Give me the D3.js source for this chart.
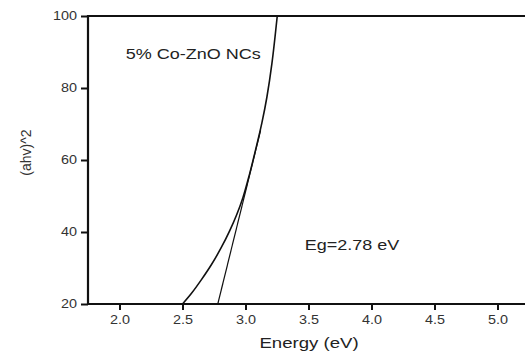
<!DOCTYPE html>
<html>
<head>
<meta charset="utf-8">
<script src="https://cdn.jsdelivr.net/npm/d3@7"></script>
<style>
  html, body { margin: 0; padding: 0; background: #fff; }
  svg { display: block; }
  text { font-family: "Liberation Sans", Arial, Helvetica, sans-serif; }
</style>
</head>
<body>
<svg id="chart" width="525" height="351"></svg>
<script>
// Tauc plot: (ahv)^2 against photon energy
const energy = [2.50, 2.57, 2.649, 2.729, 2.808, 2.875, 2.93, 2.98, 3.03, 3.08, 3.13, 3.17, 3.21, 3.252];
const ahv2   = [20.0, 22.9, 26.7, 30.9, 35.7, 40.4, 44.8, 49.6, 55.8, 62.8, 70.3, 77.5, 86.9, 100.0];

// Linear extrapolation of the absorption edge to the energy axis
const fitEnergy = [2.78, 3.12];
const fitValue  = [20, 68.2];

const xTicks = [2.0, 2.5, 3.0, 3.5, 4.0, 4.5, 5.0];
const yTicks = [20, 40, 60, 80, 100];

const sampleLabel = "5% Co-ZnO NCs";
const gapLabel = "Eg=2.78 eV";
const xTitle = "Energy (eV)";
const yTitle = "(ahv)^2";

const svg = d3.select("#chart");
const plotLeft = 88, plotRight = 529, plotTop = 16, plotBottom = 304;
const SX = 1.2; // horizontal text stretch

const x = d3.scaleLinear().domain([1.75, 5.25]).range([plotLeft, plotRight]);
const y = d3.scaleLinear().domain([20, 100]).range([plotBottom, plotTop]);

// frame
svg.append("rect")
  .attr("x", plotLeft).attr("y", plotTop)
  .attr("width", plotRight - plotLeft).attr("height", plotBottom - plotTop)
  .attr("fill", "none").attr("stroke", "#111").attr("stroke-width", 2);

// x axis
const gx = svg.append("g").attr("transform", `translate(0,${plotBottom})`)
  .call(d3.axisBottom(x).tickValues(xTicks).tickFormat(d3.format(".1f"))
    .tickSize(6).tickPadding(5));
gx.select(".domain").remove();
gx.selectAll(".tick line").attr("stroke", "#111").attr("stroke-width", 2);
gx.selectAll(".tick text")
  .attr("font-size", 12).attr("fill", "#333")
  .attr("font-family", "Liberation Sans, Arial, sans-serif")
  .attr("transform", `scale(${SX},1)`);

// y axis
const gy = svg.append("g").attr("transform", `translate(${plotLeft},0)`)
  .call(d3.axisLeft(y).tickValues(yTicks).tickFormat(d3.format("d"))
    .tickSize(7).tickPadding(4));
gy.select(".domain").remove();
gy.selectAll(".tick line").attr("stroke", "#111").attr("stroke-width", 2);
gy.selectAll(".tick text")
  .attr("font-size", 12).attr("fill", "#333")
  .attr("font-family", "Liberation Sans, Arial, sans-serif")
  .attr("x", -11 / SX)
  .attr("transform", `scale(${SX},1)`);

// left and bottom axis lines
svg.append("line").attr("x1", plotLeft).attr("x2", plotLeft).attr("y1", plotTop - 1).attr("y2", plotBottom + 1)
  .attr("stroke", "#111").attr("stroke-width", 2.2);
svg.append("line").attr("x1", plotLeft - 1).attr("x2", plotRight).attr("y1", plotBottom).attr("y2", plotBottom)
  .attr("stroke", "#111").attr("stroke-width", 2.2);

// absorption curve
const pts = energy.map((e, i) => [e, ahv2[i]]);
svg.append("path")
  .datum(pts)
  .attr("fill", "none").attr("stroke", "#111").attr("stroke-width", 1.6)
  .attr("d", d3.line().x(d => x(d[0])).y(d => y(d[1])).curve(d3.curveCatmullRom));

// band-gap extrapolation line
const fit = fitEnergy.map((e, i) => [e, fitValue[i]]);
svg.append("path")
  .datum(fit)
  .attr("fill", "none").attr("stroke", "#111").attr("stroke-width", 1.2)
  .attr("d", d3.line().x(d => x(d[0])).y(d => y(d[1])));

// annotations
function stretchedText(px, py, str, size, anchor) {
  svg.append("text")
    .attr("transform", `translate(${px},${py}) scale(${SX},1)`)
    .attr("text-anchor", anchor || "start")
    .attr("font-size", size).attr("fill", "#222")
    .text(str);
}
stretchedText(x(2.05), y(88), sampleLabel, 15);
stretchedText(x(3.47), y(35.1), gapLabel, 15);
stretchedText(309, 348, xTitle, 15.5, "middle");

svg.append("text")
  .attr("transform", `translate(31,152.5) rotate(-90)`)
  .attr("text-anchor", "middle")
  .attr("font-size", 14).attr("fill", "#333")
  .text(yTitle);
</script>
</body>
</html>
